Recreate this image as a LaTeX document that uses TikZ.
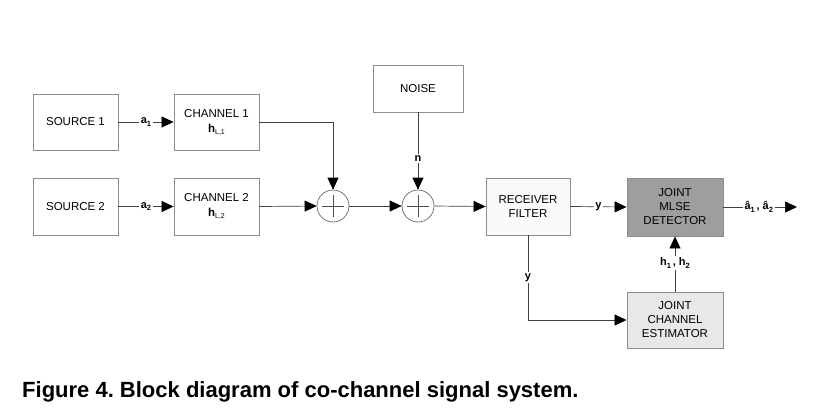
\documentclass[tikz,border=0pt]{standalone}
\usepackage{fontspec}
\setmainfont{Liberation Sans}
\usetikzlibrary{arrows.meta}
\begin{document}
\frenchspacing
\begin{tikzpicture}[x=1pt,y=-1pt,
  blk/.style={draw=black!45,line width=0.9pt,rectangle,inner sep=0pt,align=center,font=\fontsize{11.5}{14}\selectfont},
  summer/.style={draw=black!60,line width=0.7pt,circle,minimum size=32pt,inner sep=0pt},
  wire/.style={draw=black!75,line width=0.7pt},
  arr/.style={wire,-{Triangle[length=12pt,width=11pt,fill=black,color=black]}},
  lbl/.style={fill=white,inner sep=1.5pt,font=\bfseries\fontsize{11}{13}\selectfont},
  sub/.style={}
]
\useasboundingbox (0,0) rectangle (813,410);
\node[blk,minimum width=85pt,minimum height=56pt] (src1) at (75.5,122) {SOURCE 1};
\node[blk,minimum width=85pt,minimum height=57pt] (src2) at (75.5,206.5) {SOURCE 2};
\node[blk,minimum width=85pt,minimum height=56pt] (ch1) at (216.5,122) {CHANNEL 1\\[1pt]\textbf{h}\raisebox{-2pt}{\fontsize{7}{8}\selectfont L,1}};
\node[blk,minimum width=85pt,minimum height=57pt] (ch2) at (216.5,206.5) {CHANNEL 2\\[1pt]\textbf{h}\raisebox{-2pt}{\fontsize{7}{8}\selectfont L,2}};
\node[blk,minimum width=90pt,minimum height=47pt] (noise) at (418,88.5) {NOISE};
\node[summer] (add1) at (333,206) {};
\node[summer] (add2) at (418,206) {};
\foreach \a in {add1,add2}{
  \draw[black!70,line width=0.7pt] ([xshift=-11pt]\a.center) -- ([xshift=11pt]\a.center);
  \draw[black!70,line width=0.7pt] ([yshift=-11pt]\a.center) -- ([yshift=11pt]\a.center);
}
\node[blk,fill=black!2,minimum width=84pt,minimum height=57pt] (rx) at (528,206.5) {RECEIVER\\FILTER};
\node[blk,fill=black!38,minimum width=96pt,minimum height=58pt] (mlse) at (675,207) {JOINT\\MLSE\\DETECTOR};
\node[blk,fill=black!9,minimum width=96pt,minimum height=56pt] (est) at (675,320) {JOINT\\CHANNEL\\ESTIMATOR};
\coordinate (out) at (797,207);
\coordinate (c1) at (add1.center |- ch1.east);
\coordinate (c2) at (rx.south |- est.west);

\newcommand{\sbs}[1]{\raisebox{-2.5pt}{\fontsize{7.5}{8}\selectfont #1}}
\draw[arr] (src1.east) -- node[lbl,pos=0.5] {a\sbs{1}} (ch1.west);
\draw[arr] (src2.east) -- node[lbl,pos=0.5] {a\sbs{2}} (ch2.west);
\draw[arr] (ch1.east) -- (c1) -- (add1.north);
\draw[arr] (ch2.east) -- (add1.west);
\draw[arr] (add1.east) -- (add2.west);
\draw[arr] (noise.south) -- node[lbl,pos=0.6] {n} (add2.north);
\draw[arr] (add2.east) -- (rx.west);
\draw[arr] (rx.east) -- node[lbl,pos=0.5] {y} (mlse.west);
\draw[arr] (mlse.east) -- node[lbl,pos=0.48] {â\sbs{1}\,, â\sbs{2}} (out);
\draw[arr] (est.north) -- node[lbl,pos=0.52] {h\sbs{1}\,, h\sbs{2}} (mlse.south);
\draw[arr] (rx.south) -- node[lbl,pos=0.5] {y} (c2) -- (est.west);

\node[anchor=base west,inner sep=0pt,font=\bfseries\fontsize{22}{26}\selectfont] (cap) at (22,397) {Figure 4. Block diagram of co-channel signal system.};
\end{tikzpicture}
\end{document}
